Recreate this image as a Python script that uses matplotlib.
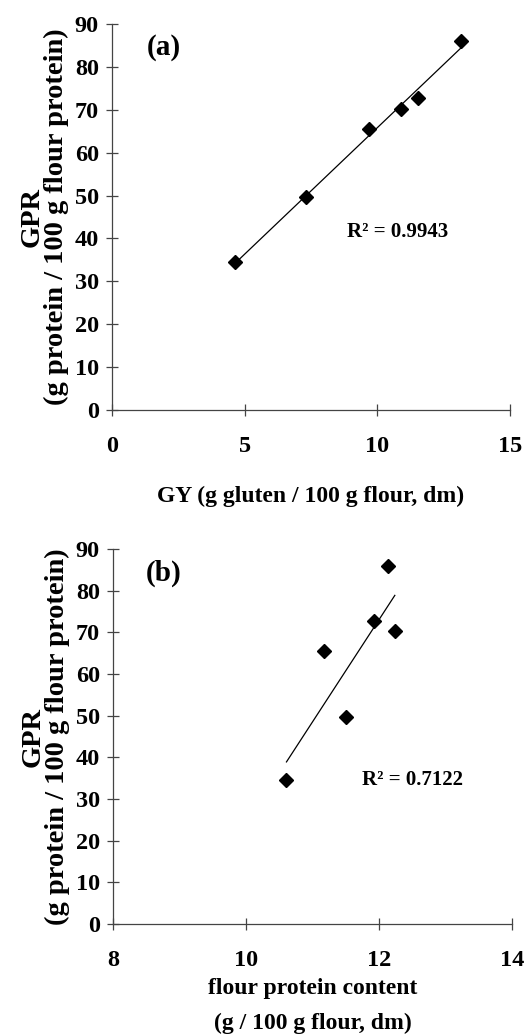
import matplotlib
matplotlib.use("Agg")
import matplotlib.pyplot as plt
import numpy as np

# GPR values shared by both panels (g protein / 100 g flour protein)
gpr = np.array([34.5, 49.7, 65.6, 70.2, 72.8, 86.0])
# gluten yield (g gluten / 100 g flour, dm)
gy = np.array([4.65, 7.32, 9.70, 10.89, 11.55, 13.15])
# flour protein content (g / 100 g flour, dm)
protein = np.array([10.61, 11.51, 11.17, 12.24, 11.92, 12.14])

r2_labels = ["R\u00b2 = 0.9943", "R\u00b2 = 0.7122"]
panel_labels = ["(a)", "(b)"]

plt.rcParams['font.family'] = ['Liberation Serif', 'DejaVu Serif']
plt.rcParams['font.weight'] = 'bold'

fig = plt.figure(figsize=(5.26, 10.35), dpi=100)
ax_a = fig.add_axes([0.2129, 0.6039, 0.7567, 0.3729])
ax_b = fig.add_axes([0.2148, 0.1072, 0.7582, 0.3624])

def style(ax):
    for s in ['top', 'right']:
        ax.spines[s].set_visible(False)
    for s in ['left', 'bottom']:
        ax.spines[s].set_color('#444444')
        ax.spines[s].set_linewidth(0.9)
    ax.tick_params(direction='inout', length=9, width=0.9, color='#444444',
                   labelsize=17.5)
    ax.tick_params(axis='x', pad=14)
    ax.tick_params(axis='y', pad=5)
    for lab in ax.get_xticklabels() + ax.get_yticklabels():
        lab.set_fontweight('bold')
    ax.set_ylim(0, 90)
    ax.set_yticks(np.arange(0, 91, 10))

ylabel = "GPR\n(g protein / 100 g flour protein)"

# panel (a)
ax_a.set_xlim(0, 15)
ax_a.set_xticks([0, 5, 10, 15])
style(ax_a)
k, b = np.polyfit(gy, gpr, 1)
xs = np.array([gy.min(), gy.max()])
ax_a.plot(xs, k * xs + b, color='black', lw=0.9)
ax_a.plot(gy, gpr, 'D', color='black', markersize=7.5)
ax_a.set_xlabel("GY (g gluten / 100 g flour, dm)", fontsize=17, fontweight='bold', labelpad=21)
ax_a.set_ylabel(ylabel, fontsize=20.5, fontweight='bold', labelpad=4, linespacing=0.95)
ax_a.text(0.088, 0.94, panel_labels[0], transform=ax_a.transAxes, fontsize=21,
          fontweight='bold', ha='left', va='center')
ax_a.text(0.59, 0.46, r2_labels[0], transform=ax_a.transAxes, fontsize=15,
          fontweight='bold', ha='left', va='center')

# panel (b)
ax_b.set_xlim(8, 14)
ax_b.set_xticks([8, 10, 12, 14])
style(ax_b)
k, b = np.polyfit(protein, gpr, 1)
xs = np.array([protein.min(), protein.max()])
ax_b.plot(xs, k * xs + b, color='black', lw=0.9)
ax_b.plot(protein, gpr, 'D', color='black', markersize=7.5)
ax_b.set_xlabel("flour protein content\n(g / 100 g flour, dm)", fontsize=17,
                fontweight='bold', labelpad=5, linespacing=1.9)
ax_b.set_ylabel(ylabel, fontsize=20.5, fontweight='bold', labelpad=4, linespacing=0.95)
ax_b.text(0.083, 0.935, panel_labels[1], transform=ax_b.transAxes, fontsize=21,
          fontweight='bold', ha='left', va='center')
ax_b.text(0.625, 0.385, r2_labels[1], transform=ax_b.transAxes, fontsize=15,
          fontweight='bold', ha='left', va='center')

fig.savefig("out.png", dpi=100)
